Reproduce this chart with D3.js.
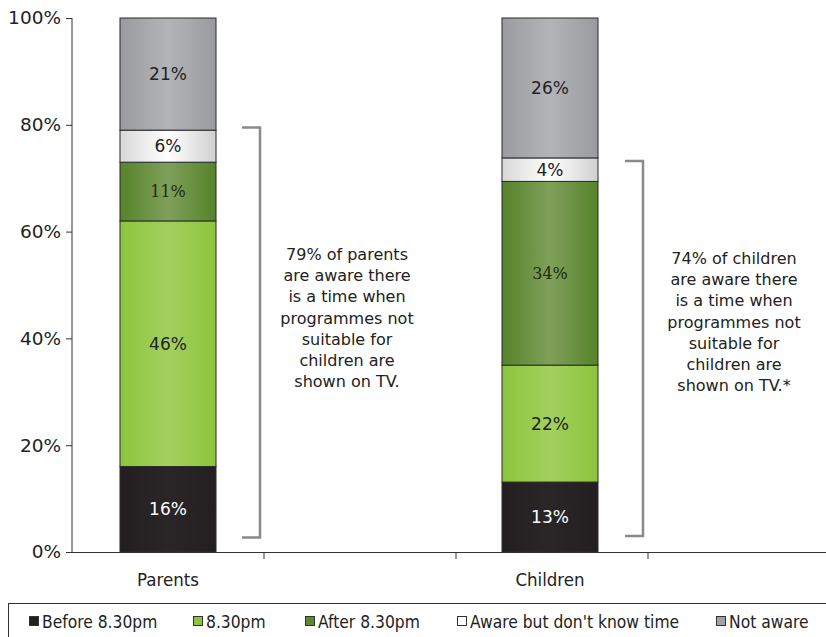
<!DOCTYPE html>
<html><head><meta charset="utf-8">
<script src="https://cdn.jsdelivr.net/npm/d3@7"></script>
<style>body{margin:0;background:#fff}svg{display:block}</style>
</head><body>
<svg id="c" width="826" height="637"></svg>
<script>
const categories = ["Parents", "", "Children", ""];
const groups = ["Parents", "Children"];
const seriesNames = ["Before 8.30pm", "8.30pm", "After 8.30pm", "Aware but don't know time", "Not aware"];
const beforeVals = [16, 13.1];
const at830Vals = [46, 21.9];
const afterVals = [11, 34.4];
const awareNoTimeVals = [6, 4.4];
const notAwareVals = [21, 26.2];
const yTicks = [0, 20, 40, 60, 80, 100];
const bracketTop = [79.5, 73.2];
const bracketBottom = [2.7, 3.0];
const noteParents = ["79% of parents", "are aware there", "is a time when", "programmes not", "suitable for", "children are", "shown on TV."];
const noteChildren = ["74% of children", "are aware there", "is a time when", "programmes not", "suitable for", "children are", "shown on TV.*"];

const svg = d3.select("#c");
const font = "'DejaVu Sans', Verdana, sans-serif";
const fontC = "'DejaVu Sans Condensed', 'DejaVu Sans', sans-serif";

const x = d3.scaleBand().domain(categories.map((c,i)=>i)).range([72, 72 + 4*192]).padding(0);
const y = d3.scaleLinear().domain([0, 100]).range([552, 18]);

const defs = svg.append("defs");
const gradSpec = [
  ["#231f20", "#2a2627", "#231f20"],
  ["#8cc43e", "#a3d05e", "#8cc43e"],
  ["#56832a", "#7fa05a", "#56832a"],
  ["#d8d8d8", "#ffffff", "#d0d0d0"],
  ["#9a9b9f", "#b3b4b8", "#9a9b9f"]
];
gradSpec.forEach((g, i) => {
  const lg = defs.append("linearGradient").attr("id", "g" + i).attr("x1", "0%").attr("x2", "100%").attr("y1", "0%").attr("y2", "0%");
  lg.append("stop").attr("offset", "0%").attr("stop-color", g[0]);
  lg.append("stop").attr("offset", "50%").attr("stop-color", g[1]);
  lg.append("stop").attr("offset", "100%").attr("stop-color", g[2]);
});
const legendColors = ["#231f20", "#8cc43e", "#5a8a2c", "#ffffff", "#a0a1a5"];

const table = groups.map((g, i) => ({
  group: g, idx: categories.indexOf(g),
  vals: [beforeVals[i], at830Vals[i], afterVals[i], awareNoTimeVals[i], notAwareVals[i]]
}));
const stack = d3.stack().keys([0,1,2,3,4]).value((d, k) => d.vals[k]);
const stacked = stack(table);

const barW = x.bandwidth() * 0.5;
const barShift = [0, -2];
stacked.forEach((layer, k) => {
  layer.forEach((seg, gi) => {
    const d = seg.data;
    const cx = x(d.idx) + x.bandwidth()/2 + barShift[gi];
    svg.append("rect")
      .attr("x", cx - barW/2).attr("width", barW)
      .attr("y", y(seg[1])).attr("height", y(seg[0]) - y(seg[1]))
      .attr("fill", `url(#g${k})`).attr("stroke", "#2b2b2b").attr("stroke-width", 1);
    const serif = (k === 2);
    svg.append("text")
      .attr("x", cx).attr("y", (y(seg[0]) + y(seg[1]))/2)
      .attr("dy", "0.36em").attr("text-anchor", "middle")
      .attr("font-family", serif ? "'DejaVu Serif', serif" : font)
      .attr("font-size", serif ? 16 : 17)
      .attr("fill", k === 0 ? "#ffffff" : (serif ? "#1f2a14" : "#222"))
      .text(Math.round(d.vals[k]) + "%");
  });
});

const yAxis = svg.append("g").attr("transform", "translate(72,0)")
  .call(d3.axisLeft(y).tickValues(yTicks).tickSize(6).tickPadding(5).tickFormat(d => d + "%"));
yAxis.select(".domain").attr("stroke", "#333").attr("d", `M-0,${y(100)}V${y(0)}`);
yAxis.selectAll(".tick line").attr("stroke", "#333");
yAxis.selectAll(".tick text").attr("font-family", font).attr("font-size", 18.5).attr("fill", "#222");

svg.append("line").attr("x1", 72).attr("x2", 826).attr("y1", 552.5).attr("y2", 552.5).attr("stroke", "#333");
categories.forEach((c, i) => {
  const bx = x(i) + x.bandwidth();
  svg.append("line").attr("x1", bx).attr("x2", bx).attr("y1", 552).attr("y2", 559).attr("stroke", "#333");
  if (c) {
    svg.append("text").attr("x", x(i) + x.bandwidth()/2 - (i ? 2 : 0)).attr("y", 586)
      .attr("text-anchor", "middle").attr("font-family", fontC).attr("font-size", 18.5).attr("fill", "#222").text(c);
  }
});

const brX = [260, 643];
const brLeft = [242, 625];
const noteX = [347, 734];
const noteY0 = [260, 264];
[noteParents, noteChildren].forEach((lines, i) => {
  const t = y(bracketTop[i]), b = y(bracketBottom[i]);
  svg.append("path").attr("d", `M${brLeft[i]},${t}H${brX[i]}V${b}H${brLeft[i]}`)
    .attr("fill", "none").attr("stroke", "#8a8a8c").attr("stroke-width", 2.5);
  lines.forEach((ln, j) => {
    svg.append("text").attr("x", noteX[i]).attr("y", noteY0[i] + j*21.2)
      .attr("text-anchor", "middle").attr("font-family", font).attr("font-size", 16).attr("fill", "#222").text(ln);
  });
});

svg.append("rect").attr("x", 8.5).attr("y", 603.5).attr("width", 830).attr("height", 50)
  .attr("fill", "#fff").attr("stroke", "#333");
const legX = [29, 193, 305, 457, 716];
seriesNames.forEach((n, i) => {
  svg.append("rect").attr("x", legX[i] + 0.5).attr("y", 616.5).attr("width", 9).attr("height", 9)
    .attr("fill", legendColors[i]).attr("stroke", "#333");
  svg.append("text").attr("x", legX[i] + 13).attr("y", 628).attr("font-family", fontC)
    .attr("font-size", 17.3).attr("fill", "#222").text(n);
});
</script>
</body></html>
